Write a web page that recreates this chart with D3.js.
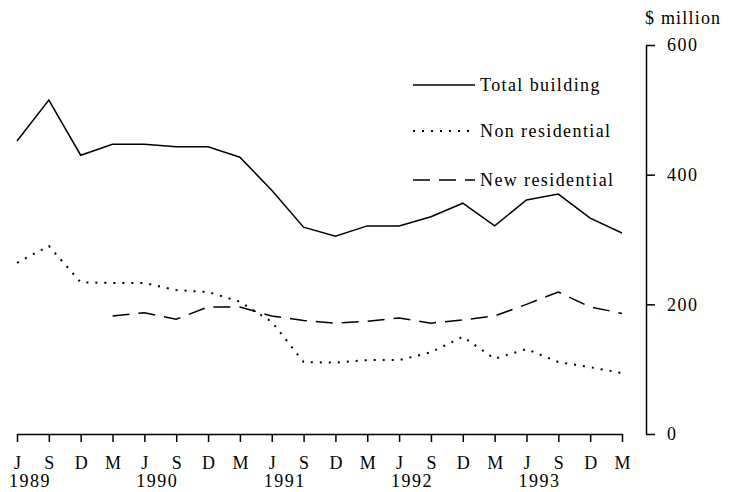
<!DOCTYPE html>
<html>
<head>
<meta charset="utf-8">
<script src="https://cdn.jsdelivr.net/npm/d3@7"></script>
<style>
  body { margin: 0; background: #fff; }
  svg { display: block; }
  text { font-family: "Liberation Serif", "Times New Roman", serif; fill: #000; }
</style>
</head>
<body>
<div id="chart"></div>
<script>
// quarters from June 1989 to March 1994
const periods = ["Jun89","Sep89","Dec89","Mar90","Jun90","Sep90","Dec90","Mar91","Jun91","Sep91",
                 "Dec91","Mar92","Jun92","Sep92","Dec92","Mar93","Jun93","Sep93","Dec93","Mar94"]
const quarterLabels = ["J","S","D","M","J","S","D","M","J","S","D","M","J","S","D","M","J","S","D","M"]
const yearLabels = ["1989","1990","1991","1992","1993"]
const yearStarts = ["Jun89","Jun90","Jun91","Jun92","Jun93"]

const totalBuilding = [452,515,430,447,447,443,443,427,376,319,305,321,321,335,356,321,361,370,333,310]
const nonResidential = [264,290,234,233,233,222,219,204,173,111,110,114,114,126,150,116,131,111,103,94]
const newResidential = [null,null,null,182,187,177,196,196,182,175,171,174,179,171,176,182,200,219,196,186]

const yTicks = [0, 200, 400, 600]

const seriesNames = ["Total building", "Non residential", "New residential"]

const width = 731
const height = 492

const svg = d3.select('#chart').append('svg').attr('width', width).attr('height', height)

const xScale = d3.scalePoint().domain(periods).range([17, 622])
const yScale = d3.scaleLinear().domain([0, 600]).range([434, 45])

const dashes = {
  "Total building": null,
  "Non residential": "2,7",
  "New residential": "17,9"
}

const seriesData = [totalBuilding, nonResidential, newResidential]

// x axis
const xAxis = d3.axisBottom(xScale)
  .tickSize(8)
  .tickSizeOuter(0)
  .tickPadding(14)
  .tickFormat(function(d, i) { return quarterLabels[i] })

const gx = svg.append('g').attr('transform', 'translate(0,' + yScale(0) + ')').call(xAxis)
gx.selectAll('path, line').attr('stroke', '#000').attr('stroke-width', 1.5)
gx.selectAll('text').attr('font-size', '18px').attr('fill', '#000')

svg.selectAll('.year').data(yearLabels)
  .enter()
  .append('text')
  .attr('class', 'year')
  .attr('x', function(d, i) { return xScale(yearStarts[i]) + 13 })
  .attr('y', 487)
  .attr('text-anchor', 'middle')
  .attr('font-size', '18px')
  .attr('letter-spacing', '1.5px')
  .text(function(d) { return d })

// y axis on the right
const yAxis = d3.axisRight(yScale)
  .tickValues(yTicks)
  .tickSize(9)
  .tickSizeOuter(0)
  .tickPadding(12)

const gy = svg.append('g').attr('transform', 'translate(646,0)').call(yAxis)
gy.selectAll('path, line').attr('stroke', '#000').attr('stroke-width', 1.5)
gy.selectAll('text').attr('font-size', '18px').attr('letter-spacing', '1.5px').attr('fill', '#000')

svg.append('text')
  .attr('x', 645)
  .attr('y', 24)
  .attr('font-size', '18px')
  .attr('letter-spacing', '1.2px')
  .text('$ million')

// lines
const line = d3.line()
  .defined(function(d) { return d != null })
  .x(function(d, i) { return xScale(periods[i]) })
  .y(function(d) { return yScale(d) })

seriesData.forEach(function(values, k) {
  svg.append('path')
    .datum(values)
    .attr('fill', 'none')
    .attr('stroke', '#000')
    .attr('stroke-width', k === 1 ? 2 : 1.5)
    .attr('stroke-dasharray', dashes[seriesNames[k]])
    .attr('d', line)
})

// legend
const legendY = [85, 131, 180]
seriesNames.forEach(function(name, k) {
  svg.append('line')
    .attr('x1', 413).attr('x2', 475)
    .attr('y1', legendY[k]).attr('y2', legendY[k])
    .attr('stroke', '#000')
    .attr('stroke-width', k === 1 ? 2 : 1.5)
    .attr('stroke-dasharray', dashes[name])
  svg.append('text')
    .attr('x', 480)
    .attr('y', legendY[k])
    .attr('dy', '0.33em')
    .attr('font-size', '18px')
    .attr('letter-spacing', '1.4px')
    .text(name)
})
</script>
</body>
</html>
